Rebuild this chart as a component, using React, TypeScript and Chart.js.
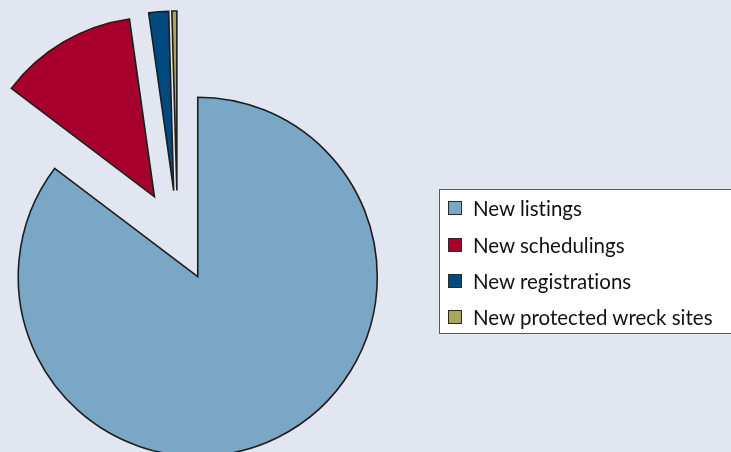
import React, { useEffect, useRef } from "react";
import { Chart, registerables } from "chart.js";

Chart.register(...registerables);

const categories = [
  "New listings",
  "New schedulings",
  "New registrations",
  "New protected wreck sites",
];
const values = [575, 84, 12, 3];
const colors = ["#7AA7C6", "#A8002C", "#004A80", "#A9A55C"];

const EXPLODE = 45.5;

const explodePlugin = {
  id: "explodeAll",
  afterDatasetUpdate(chart: any, args: any) {
    const meta = args.meta;
    meta.data.forEach((arc: any) => {
      const mid = (arc.startAngle + arc.endAngle) / 2;
      arc.x += Math.cos(mid) * EXPLODE;
      arc.y += Math.sin(mid) * EXPLODE;
    });
  },
};

export default function App() {
  const ref = useRef<HTMLCanvasElement | null>(null);

  useEffect(() => {
    if (!ref.current) return;
    const chart = new Chart(ref.current, {
      type: "pie",
      data: {
        labels: categories,
        datasets: [
          {
            data: values,
            backgroundColor: colors,
            borderColor: "#1e1e1e",
            borderWidth: 1.6,
            borderJoinStyle: "miter",
            radius: 179.5,
            clip: false,
          } as any,
        ],
      },
      options: {
        responsive: false,
        animation: false,
        events: [],
        layout: { padding: { left: 0, right: 376, top: 20, bottom: 0 } },
        plugins: {
          legend: { display: false },
          tooltip: { enabled: false },
        },
      },
      plugins: [explodePlugin],
    });
    return () => chart.destroy();
  }, []);

  return (
    <div
      style={{
        position: "fixed",
        left: 0,
        top: 0,
        width: 731,
        height: 452,
        background: "#E1E6F1",
        overflow: "hidden",
      }}
    >
      <canvas
        ref={ref}
        width={731}
        height={452}
        style={{ position: "absolute", left: 0, top: 0, width: 731, height: 452 }}
      />
      <div
        style={{
          position: "absolute",
          left: 439,
          top: 189,
          width: 310,
          height: 145,
          boxSizing: "border-box",
          border: "1px solid #5a5a5a",
          background: "#ffffff",
          fontFamily: "Lato, 'Open Sans', sans-serif",
          fontSize: 20.5,
          fontVariantLigatures: "none",
          color: "#111111",
        }}
      >
        {categories.map((c, i) => (
          <div
            key={c}
            style={{
              position: "absolute",
              left: 8,
              top: 0.3 + i * 36.2,
              height: 36,
              display: "flex",
              alignItems: "center",
              whiteSpace: "nowrap",
            }}
          >
            <span
              style={{
                display: "inline-block",
                width: 14,
                height: 14,
                boxSizing: "border-box",
                border: "1.5px solid #2a2a2a",
                background: colors[i],
                marginRight: 11,
                flexShrink: 0,
              }}
            />
            <span>{c}</span>
          </div>
        ))}
      </div>
    </div>
  );
}
